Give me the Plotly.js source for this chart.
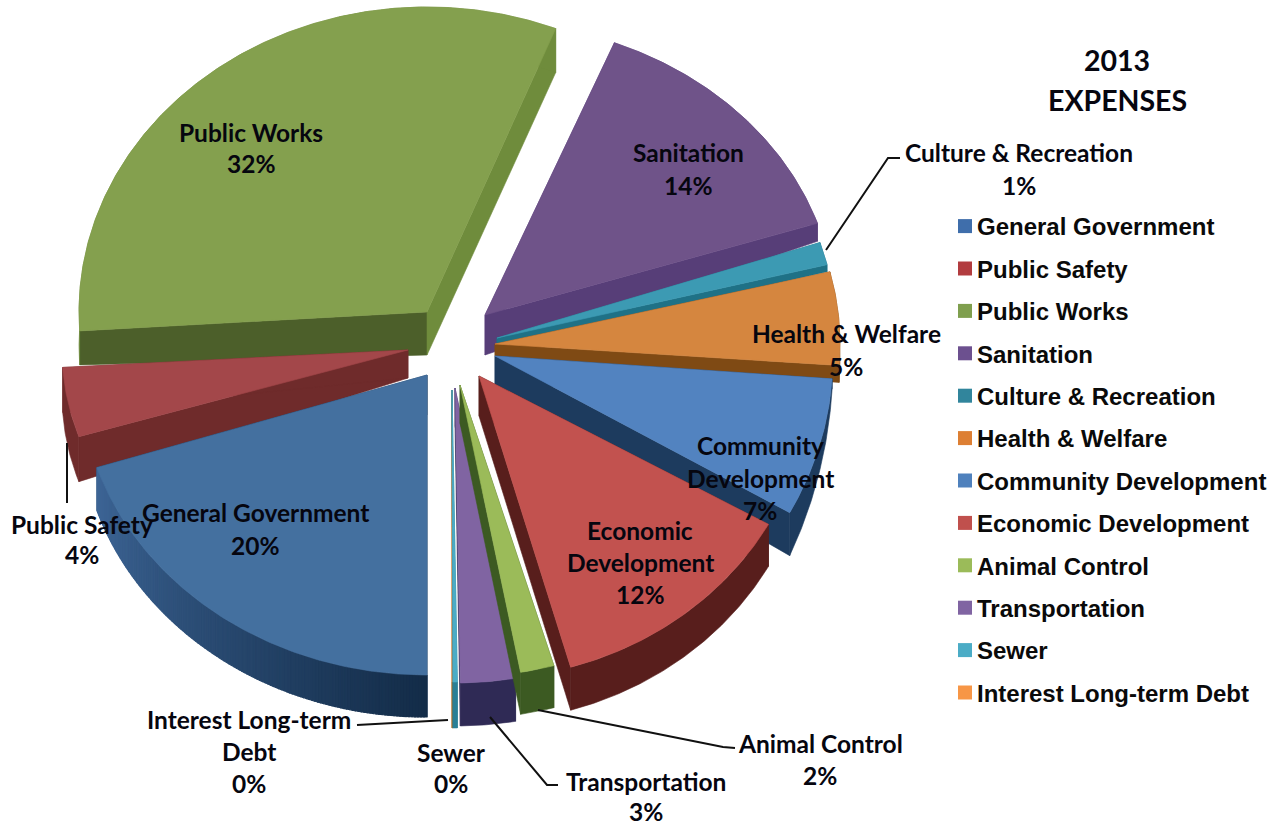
<!DOCTYPE html>
<html>
<head>
<meta charset="utf-8">
<title>2013 Expenses</title>
<script src="https://cdn.plot.ly/plotly-3.0.1.min.js"></script>
<style>html,body{margin:0;padding:0;background:#fff}#chart{width:1288px;height:825px}</style>
</head>
<body>
<div id="chart"></div>
<script>
// Expense categories and their share of the 2013 budget, in percent
const categories = ["General Government","Public Safety","Public Works","Sanitation","Culture & Recreation","Health & Welfare","Community Development","Economic Development","Animal Control","Transportation","Sewer","Interest Long-term Debt"];
const values = [20,4,32,13.9,1.2,5,7,12.4,1.6,2.6,0.2,0.05];
const faceColors = ["#44709f","#a3474a","#84a04e","#6f5389","#3c9ab3","#d5863f","#5283c0","#c2524f","#9bbb59","#8064a2","#4bacc6","#f79646"];
const legendColors = ["#3f6eab","#b23c3f","#7f9f4e","#6c508f","#31859c","#dd7f33","#4f81bd","#c0504d","#9bbb59","#8064a2","#4bacc6","#f79646"];
const wallColors = ["#1a3a5c","#6f2b2b","#4c5f2a","#573e78","#1f7186","#7f4a14","#1d3b5e","#581e1c","#3c5a22","#2f2a55","#2a7f96","#b06a20"];
const chartTitle = ["2013","EXPENSES"];
const labelLines = [["General Government"],["Public Safety"],["Public Works"],["Sanitation"],["Culture & Recreation"],["Health & Welfare"],["Community","Development"],["Economic","Development"],["Animal Control"],["Transportation"],["Sewer"],["Interest Long-term","Debt"]];

// Pie styling: exploded offsets from the pie centre, ellipse radii and extrusion depths
const pieCentre = [452,345];
const pull = [[-25,30],[-44,5],[-25,-33],[33,-30],[45,-7],[43,-1],[43,11],[27,31],[8,40],[3,43],[0,45],[0,45]];
const radii = [[347,300],[346,281],[348,305],[350,293],[340,305],[345,300],[338,320],[332,303],[340,292],[340,295],[340,292],[340,292]];
const depths = [[40,42,43],[28,45,45],[43,34,44],[40,20,18],[10,8,7],[12,14,17],[30,10,43],[40,42,43],[38,42,42],[38,43,43],[38,46,46],[38,46,46]];
const endWallColors = {2:"#6f8c3c"};
const arcWallColors = {2:"#6f8c3c"};
const arcShade = {0:["#3d6596","#132c48"]};
const drawOrder = [2,3,4,5,1,6,0,7,11,10,9,8];
// Label anchor for each text line: [centre x, centre y per line]
const labelSpots = [[255,[512,545]],[82,[524,554]],[251,[132,163]],[688,[152,185]],[1019,[152,185]],[846,[333,366]],[760,[445,478,510]],[640,[530,562,594]],[820,[743,775]],[646,[781,811]],[451,[752,783]],[249,[719,751,783]]];
const leaders = [[[826,250],[888,158],[900,158]],[[67,443],[67,503]],[[357,725],[448,720]],[[490,717],[547,785],[558,785]],[[538,710],[723,747],[735,748]]];

const total = values.reduce((a,b)=>a+b,0);
let startAngle = 180;
const slices = values.map((v,i)=>{
  const a0 = startAngle, a1 = a0 + v/total*360;
  startAngle = a1;
  return {i,a0,a1,ax:pieCentre[0]+pull[i][0],ay:pieCentre[1]+pull[i][1],rx:radii[i][0],ry:radii[i][1],d:depths[i]};
});
const rimPoint = (s,a)=>{
  const t = a*Math.PI/180;
  return [s.ax+s.rx*Math.sin(t), s.ay-s.ry*Math.cos(t)];
};
function poly(points,color,edge){
  const xs = points.map(p=>p[0]); const ys = points.map(p=>p[1]);
  xs.push(xs[0]); ys.push(ys[0]);
  return {type:"scatter",mode:"lines",x:xs,y:ys,fill:"toself",fillcolor:color,line:{color:color,width:edge||0.6},hoverinfo:"skip",showlegend:false};
}
const mix = (c1,c2,t)=>{
  const p = c=>[1,3,5].map(k=>parseInt(c.substr(k,2),16));
  const a=p(c1), b=p(c2);
  return "rgb("+a.map((v,k)=>Math.round(v+(b[k]-v)*t)).join(",")+")";
};

const traces = [];
// Legend entries come first so they stay in category order
categories.forEach((name,i)=>traces.push({type:"scatter",mode:"markers",x:[null],y:[null],name:name,legendgroup:name,marker:{symbol:"square",size:14,color:legendColors[i]},hoverinfo:"skip"}));

drawOrder.forEach(i=>{
  const s = slices[i];
  const wall = wallColors[i];
  const endWall = endWallColors[i] || wall;
  const p0 = rimPoint(s,s.a0), p1 = rimPoint(s,s.a1);
  // radial walls at both ends of the slice
  traces.push(poly([[s.ax,s.ay],[s.ax,s.ay+s.d[0]],[p0[0],p0[1]+s.d[1]],p0],wall));
  traces.push(poly([[s.ax,s.ay],[s.ax,s.ay+s.d[0]],[p1[0],p1[1]+s.d[2]],p1],endWall));
  // outer wall: one band, or many short ones where it carries a shade
  const span = s.a1-s.a0;
  const n = Math.max(4,Math.ceil(span*2));
  const depthAt = t=>s.d[1]+(s.d[2]-s.d[1])*t;
  if(arcShade[i]){
    for(let k=0;k<n;k++){
      const t0=k/n, t1=(k+1)/n;
      const pa=rimPoint(s,s.a0+span*t0), pb=rimPoint(s,s.a0+span*t1);
      traces.push(poly([pa,pb,[pb[0],pb[1]+depthAt(t1)],[pa[0],pa[1]+depthAt(t0)]],mix(arcShade[i][1],arcShade[i][0],t0),1.2));
    }
  } else {
    const top=[],bottom=[];
    for(let k=0;k<=n;k++){
      const t=k/n, p=rimPoint(s,s.a0+span*t);
      top.push(p); bottom.unshift([p[0],p[1]+depthAt(t)]);
    }
    traces.push(poly(top.concat(bottom),arcWallColors[i]||wall));
  }
  // top face
  const face=[[s.ax,s.ay]];
  for(let k=0;k<=n;k++) face.push(rimPoint(s,s.a0+span*k/n));
  traces.push(poly(face,faceColors[i]));
});

const labelFont = {family:"Lato, 'Open Sans', sans-serif",size:24.5,color:"#06060f",weight:700};
const annotations = [];
const addText=(text,x,y,font)=>annotations.push({text:text,x:x,y:y,xref:"x",yref:"y",xanchor:"center",yanchor:"middle",showarrow:false,font:font});
categories.forEach((name,i)=>{
  const lines = labelLines[i].concat([Math.round(values[i])+"%"]);
  lines.forEach((line,k)=>addText(line,labelSpots[i][0],labelSpots[i][1][k],labelFont));
});
addText(chartTitle[0],1117,60,Object.assign({},labelFont,{size:28.5}));
addText(chartTitle[1],1117,100,Object.assign({},labelFont,{size:28.5}));

const shapes = leaders.map(pts=>({type:"path",xref:"x",yref:"y",line:{color:"#111",width:2},path:pts.map((p,k)=>(k?"L":"M")+p[0]+","+p[1]).join(" ")}));

const layout = {
  width:1288,height:825,margin:{l:0,r:0,t:0,b:0},paper_bgcolor:"#fff",plot_bgcolor:"#fff",
  xaxis:{range:[0,1288],visible:false,fixedrange:true},
  yaxis:{range:[825,0],visible:false,fixedrange:true},
  showlegend:true,
  legend:{x:945/1288,xanchor:"left",y:1-204/825,yanchor:"top",tracegroupgap:8.2,itemclick:false,itemdoubleclick:false,bgcolor:"rgba(0,0,0,0)",
    font:{family:"'Liberation Sans', Arial, sans-serif",size:24,color:"#0a0a0a",weight:700}},
  annotations:annotations,shapes:shapes
};
Plotly.newPlot("chart",traces,layout,{displayModeBar:false,responsive:false}).then(gd=>{
  // tighten the gap between legend swatch and its label
  gd.querySelectorAll(".legendtext").forEach(t=>t.setAttribute("x",+t.getAttribute("x")-8));
});
</script>
</body>
</html>
